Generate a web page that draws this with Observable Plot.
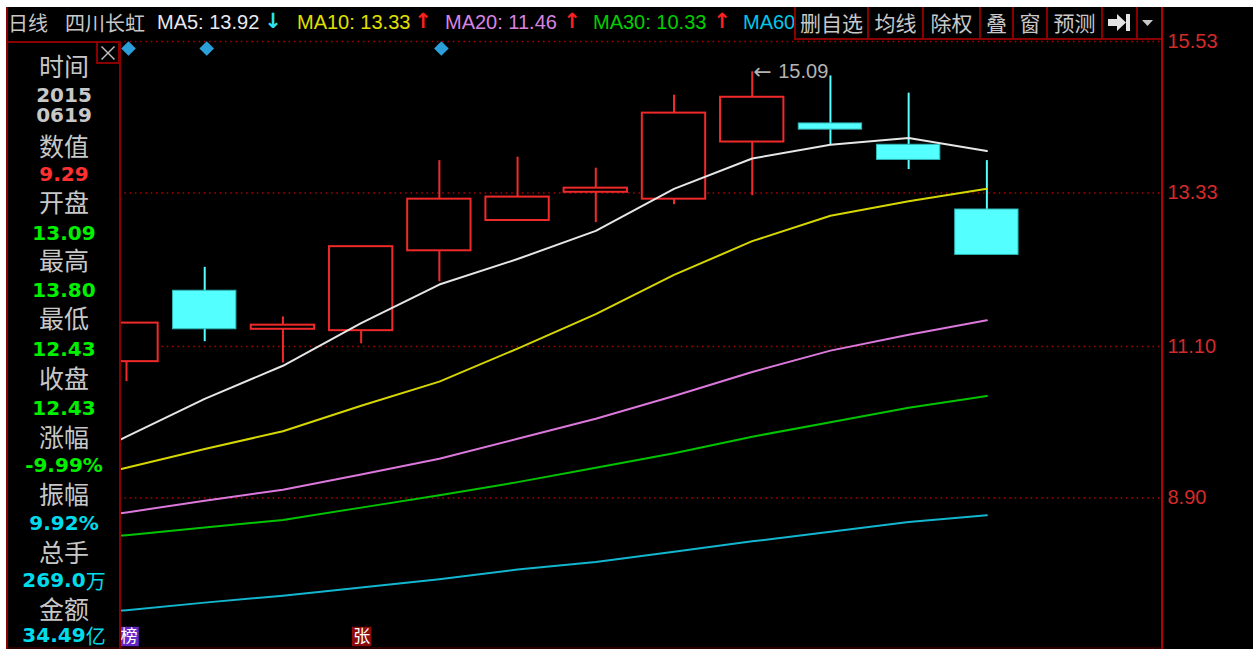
<!DOCTYPE html>
<html>
<head>
<meta charset="utf-8">
<script src="https://cdn.jsdelivr.net/npm/d3@7"></script>
<script src="https://cdn.jsdelivr.net/npm/@observablehq/plot@0.6"></script>
<style>
  html, body { margin:0; padding:0; background:#fff; overflow:hidden; }
  #bg { position:absolute; left:6px; top:7px; width:1247px; height:642px; background:#000; }
  #chart { position:absolute; left:0; top:0; }
  #chart svg { display:block; }
  #overlay { position:absolute; left:0; top:0; pointer-events:none; }
</style>
</head>
<body>
<div id="bg"></div>
<div id="chart"></div>
<svg id="overlay" width="1253" height="649"></svg>
<script>
// ---------------- data ----------------
const days  = [0, 1, 2, 3, 4, 5, 6, 7, 8, 9, 10, 11];
const open  = [10.88, 11.91, 11.35, 11.33, 12.49, 12.93, 13.34, 13.24, 14.07, 14.34, 14.03, 13.09];
const high  = [11.44, 12.25, 11.53, 12.55, 13.80, 13.85, 13.69, 14.75, 15.09, 15.03, 14.78, 13.80];
const low   = [10.59, 11.17, 10.86, 11.14, 12.04, 12.93, 12.90, 13.16, 13.29, 14.03, 13.67, 12.43];
const close = [11.44, 11.35, 11.41, 12.55, 13.24, 13.27, 13.40, 14.49, 14.72, 14.25, 13.81, 12.43];

const maDays = [-1, 0, 1, 2, 3, 4, 5, 6, 7, 8, 9, 10, 11];
const ma5  = [9.24, 9.79, 10.34, 10.82, 11.44, 12.00, 12.37, 12.78, 13.39, 13.83, 14.03, 14.13, 13.94];
const ma10 = [9.07, 9.34, 9.61, 9.87, 10.24, 10.59, 11.07, 11.57, 12.14, 12.63, 13.00, 13.21, 13.39];
const ma20 = [8.52, 8.69, 8.86, 9.02, 9.24, 9.47, 9.76, 10.05, 10.38, 10.73, 11.04, 11.27, 11.48];
const ma30 = [8.26, 8.36, 8.47, 8.58, 8.76, 8.94, 9.13, 9.34, 9.55, 9.79, 10.00, 10.21, 10.38];
const ma60 = [7.18, 7.27, 7.38, 7.48, 7.60, 7.72, 7.86, 7.97, 8.12, 8.27, 8.41, 8.55, 8.65];

const maNames  = ["MA5", "MA10", "MA20", "MA30", "MA60"];
const maLast   = ["13.92", "13.33", "11.46", "10.33", ""];
const maArrows = ["↓", "↑", "↑", "↑", ""];

const yTicks = [15.53, 13.33, 11.10, 8.90];
const flagDays = [0, 1, 4];
const badgeDays = [0, 3];
const badgeLabels = ["榜", "张"];
const peakDay = 8;
const peakValue = 15.09;

const panelLabels = ["时间", "数值", "开盘", "最高", "最低", "收盘", "涨幅", "振幅", "总手", "金额"];
const panelValues = ["9.29", "13.09", "13.80", "12.43", "12.43", "-9.99%", "9.92%", "269.0", "34.49"];
const toolbarLabels = ["删自选", "均线", "除权", "叠", "窗", "预测"];

// ---------------- styles ----------------
const RED = "#f02a2a", CYAN = "#54ffff", CYAN_EDGE = "#2fb3b3";
const maColors = ["#e6e6e6", "#d6d600", "#dc78dc", "#00c400", "#12b6cf"];
const badgeColors = ["#6428c8", "#8c0c0c"];
const badgeShift = [2.5, 0.5];
const HW = 0.405;

const candles = days.map((d, k) => ({d, open: open[k], high: high[k], low: low[k], close: close[k]}));
const ups = candles.filter(c => c.close >= c.open);
const downs = candles.filter(c => c.close < c.open);
const maSeries = [ma5, ma10, ma20, ma30, ma60];

const marks = [
  Plot.ruleY(yTicks, {stroke: "#b00000", strokeWidth: 1.5, strokeDasharray: "1.5,3.8"}),
  Plot.ruleX(ups, {x: "d", y1: "low", y2: "high", stroke: RED, strokeWidth: 2, clip: true}),
  Plot.ruleX(downs, {x: "d", y1: "low", y2: "high", stroke: CYAN, strokeWidth: 2, clip: true}),
  Plot.rect(ups, {x1: c => c.d - HW, x2: c => c.d + HW, y1: "open", y2: "close", fill: "#000", stroke: RED, strokeWidth: 2, clip: true}),
  Plot.rect(downs, {x1: c => c.d - HW, x2: c => c.d + HW, y1: "open", y2: "close", fill: CYAN, stroke: CYAN_EDGE, strokeWidth: 1, clip: true}),
  ...maSeries.map((s, j) => Plot.line(s.map((v, k) => ({d: maDays[k], v})), {x: "d", y: "v", stroke: maColors[j], strokeWidth: 2, clip: true})),
  Plot.dot(flagDays, {x: d => d, frameAnchor: "top", dy: 7, dx: 2, symbol: "diamond2", r: 6.6, fill: "#2b9fd8"}),
  ...badgeDays.flatMap((d, k) => [
    Plot.dot([d], {x: v => v, frameAnchor: "bottom", dy: -12, dx: badgeShift[k], symbol: "square", r: 11, fill: badgeColors[k]}),
    Plot.text([d], {x: v => v, frameAnchor: "bottom", lineAnchor: "middle", dy: -12, dx: badgeShift[k], text: () => badgeLabels[k], fill: "#ffffff", fontSize: 17, fontFamily: "'Noto Sans CJK SC'"})
  ]),
  Plot.text([{d: peakDay, v: peakValue}], {x: "d", y: "v", text: () => "←", dx: 1, textAnchor: "start", fill: "#b4b4b4", fontSize: 22, fontFamily: "DejaVu Sans"}),
  Plot.text([{d: peakDay, v: peakValue}], {x: "d", y: "v", text: c => c.v.toFixed(2), dx: 26, textAnchor: "start", fill: "#b4b4b4", fontSize: 20}),
  Plot.axisY(yTicks, {anchor: "right", tickSize: 0, tickPadding: 7, tickFormat: d => d.toFixed(2), fontSize: 20, color: "#d42a2a", label: null})
];

const chart = Plot.plot({
  width: 1253, height: 649,
  marginLeft: 119, marginRight: 93, marginTop: 41, marginBottom: 1,
  x: {domain: [-0.0895, 13.22], axis: null},
  y: {domain: [6.7137, 15.53]},
  style: {background: "transparent", overflow: "visible", fontFamily: "'Liberation Sans', Arial, sans-serif"},
  marks
});
document.getElementById("chart").appendChild(chart);

// ---------------- overlay: header, toolbar, left panel, borders ----------------
const ov = d3.select("#overlay");
const DR = "#8a0000";
const CJK = "'Noto Sans CJK SC', sans-serif";
const LAT = "'Liberation Sans', Arial, sans-serif";
function ln(x1, y1, x2, y2, c, w) { ov.append("line").attr("x1", x1).attr("y1", y1).attr("x2", x2).attr("y2", y2).attr("stroke", c).attr("stroke-width", w); }
function tx(x, y, s, o) {
  return ov.append("text").attr("x", x).attr("y", y).text(s)
    .attr("fill", o.fill).attr("font-size", o.size).attr("font-family", o.family)
    .attr("font-weight", o.weight || "normal").attr("text-anchor", o.anchor || "start")
    .attr("dominant-baseline", "central");
}

// header
tx(8, 22, "日线", {fill: "#c8c8c8", size: 20, family: CJK});
tx(65, 22, "四川长虹", {fill: "#c8c8c8", size: 20, family: CJK});
const maX = [157, 297, 445, 593, 743];
const arX = [273, 423, 572, 722];
const labelColors = ["#e8e8f0", "#e0e000", "#d884e4", "#00d000", "#00c8e8"];
const arrowColors = ["#30e0f0", "#ff2020", "#ff2020", "#ff2020"];
maNames.forEach((n, j) => {
  tx(maX[j], 22, maLast[j] ? `${n}: ${maLast[j]}` : n, {fill: labelColors[j], size: 20, family: LAT});
  if (maArrows[j]) tx(arX[j], 21, maArrows[j], {fill: arrowColors[j], size: 21, family: "DejaVu Sans", weight: "bold", anchor: "middle"});
});

// toolbar
ov.append("rect").attr("x", 795).attr("y", 7).attr("width", 367).attr("height", 33).attr("fill", "#000");
ln(795, 39, 1162, 39, DR, 2);
[795, 868, 923, 980, 1013, 1047, 1102, 1137].forEach(x => ln(x, 7, x, 40, DR, 2));
const tbC = [831.5, 895.5, 951.5, 996.5, 1030, 1074.5];
toolbarLabels.forEach((t, k) => tx(tbC[k], 22, t, {fill: "#c8c8c8", size: 21, family: CJK, anchor: "middle"}));
ov.append("polygon").attr("points", "1108,19 1117,19 1117,14 1126,22.5 1117,31 1117,26 1108,26").attr("fill", "#e4e4e4");
ov.append("rect").attr("x", 1126).attr("y", 14).attr("width", 4).attr("height", 17).attr("fill", "#e4e4e4");
ov.append("polygon").attr("points", "1142,20 1153,20 1147.5,26").attr("fill", "#c8c8c8");

// borders
ln(7, 7, 7, 649, DR, 2);
ln(7, 42, 119, 42, DR, 2);
ln(120, 42, 120, 649, DR, 2);
ln(1162, 7, 1162, 649, "#b40000", 2);
ln(7, 648, 1162, 648, "#5a0000", 1);
// close box
ov.append("rect").attr("x", 97).attr("y", 42).attr("width", 22).attr("height", 21).attr("fill", "none").attr("stroke", DR).attr("stroke-width", 2);
ln(101.5, 46.5, 114.5, 59.5, "#c0c0c0", 1.4);
ln(114.5, 46.5, 101.5, 59.5, "#c0c0c0", 1.4);

// left panel
const labY = [65, 145, 200.5, 258.5, 316.5, 377, 435.5, 492.5, 550.5, 608];
panelLabels.forEach((t, k) => tx(64, labY[k], t, {fill: "#c8c8c8", size: 25, family: CJK, anchor: "middle"}));
const NUM = "'DejaVu Sans', sans-serif";
tx(64, 95, "2015", {fill: "#c8c8c8", size: 20, family: NUM, weight: "bold", anchor: "middle"});
tx(64, 115, "0619", {fill: "#c8c8c8", size: 20, family: NUM, weight: "bold", anchor: "middle"});
const valY = [174, 233, 290, 349, 407.5, 465, 523, 580, 635];
const valC = ["#ff3030", "#00f000", "#00f000", "#00f000", "#00f000", "#00f000", "#00dcec", "#00dcec", "#00dcec"];
const units = ["", "", "", "", "", "", "", "万", "亿"];
panelValues.forEach((v, k) => {
  const t = tx(64, valY[k], v, {fill: valC[k], size: 20, family: NUM, weight: "bold", anchor: "middle"});
  if (units[k]) t.append("tspan").text(units[k]).attr("font-family", CJK).attr("font-weight", "normal").attr("font-size", 20);
});
</script>
</body>
</html>
